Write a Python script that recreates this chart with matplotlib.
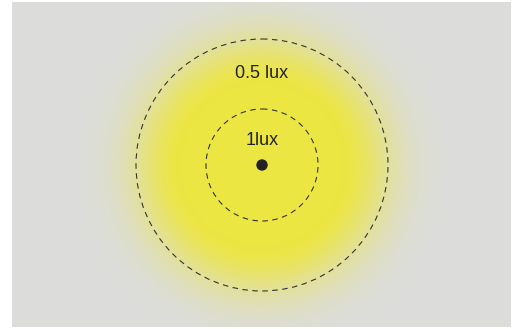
import numpy as np
import matplotlib.pyplot as plt
from matplotlib.patches import Circle

# illuminance contours (radius in px of the panel, label)
lux_levels = [1.0, 0.5]
lux_radius = [56, 126]
lux_labels = ["1lux", "0.5 lux"]
label_y = [138, 71]

# panel / lamp
panel_w, panel_h = 499, 325
lamp_x, lamp_y = 250, 163
bg_col = np.array([220, 221, 220]) / 255
yel_col = np.array([236, 230, 66]) / 255

fig = plt.figure(figsize=(5.23, 3.29), dpi=100)
fig.set_facecolor('white')
ax = fig.add_axes([12 / 523, 2 / 329, panel_w / 523, panel_h / 329])
ax.set_xlim(0, panel_w)
ax.set_ylim(panel_h, 0)
ax.axis('off')

# glow of the lamp, flat core then soft gaussian tail
xx, yy = np.meshgrid(np.arange(panel_w) + 0.5, np.arange(panel_h) + 0.5)
rr = np.hypot(xx - lamp_x, yy - lamp_y)
w = np.exp(-(np.clip(rr - 80, 0, None) / 50) ** 2)
img = bg_col[None, None, :] * (1 - w[..., None]) + yel_col[None, None, :] * w[..., None]
ax.imshow(img, extent=[0, panel_w, panel_h, 0], interpolation='bilinear')

for r, lab, ly in zip(lux_radius, lux_labels, label_y):
    ax.add_patch(Circle((lamp_x, lamp_y), r, fill=False, ec='#333333',
                        lw=0.8, ls=(0, (5, 4))))
    ax.text(lamp_x, ly, lab, ha='center', va='center', fontsize=13,
            color='#222222', family='Liberation Sans')

ax.add_patch(Circle((lamp_x, lamp_y), 5, color='#222222'))

plt.savefig('out.png', dpi=100)
plt.close()
